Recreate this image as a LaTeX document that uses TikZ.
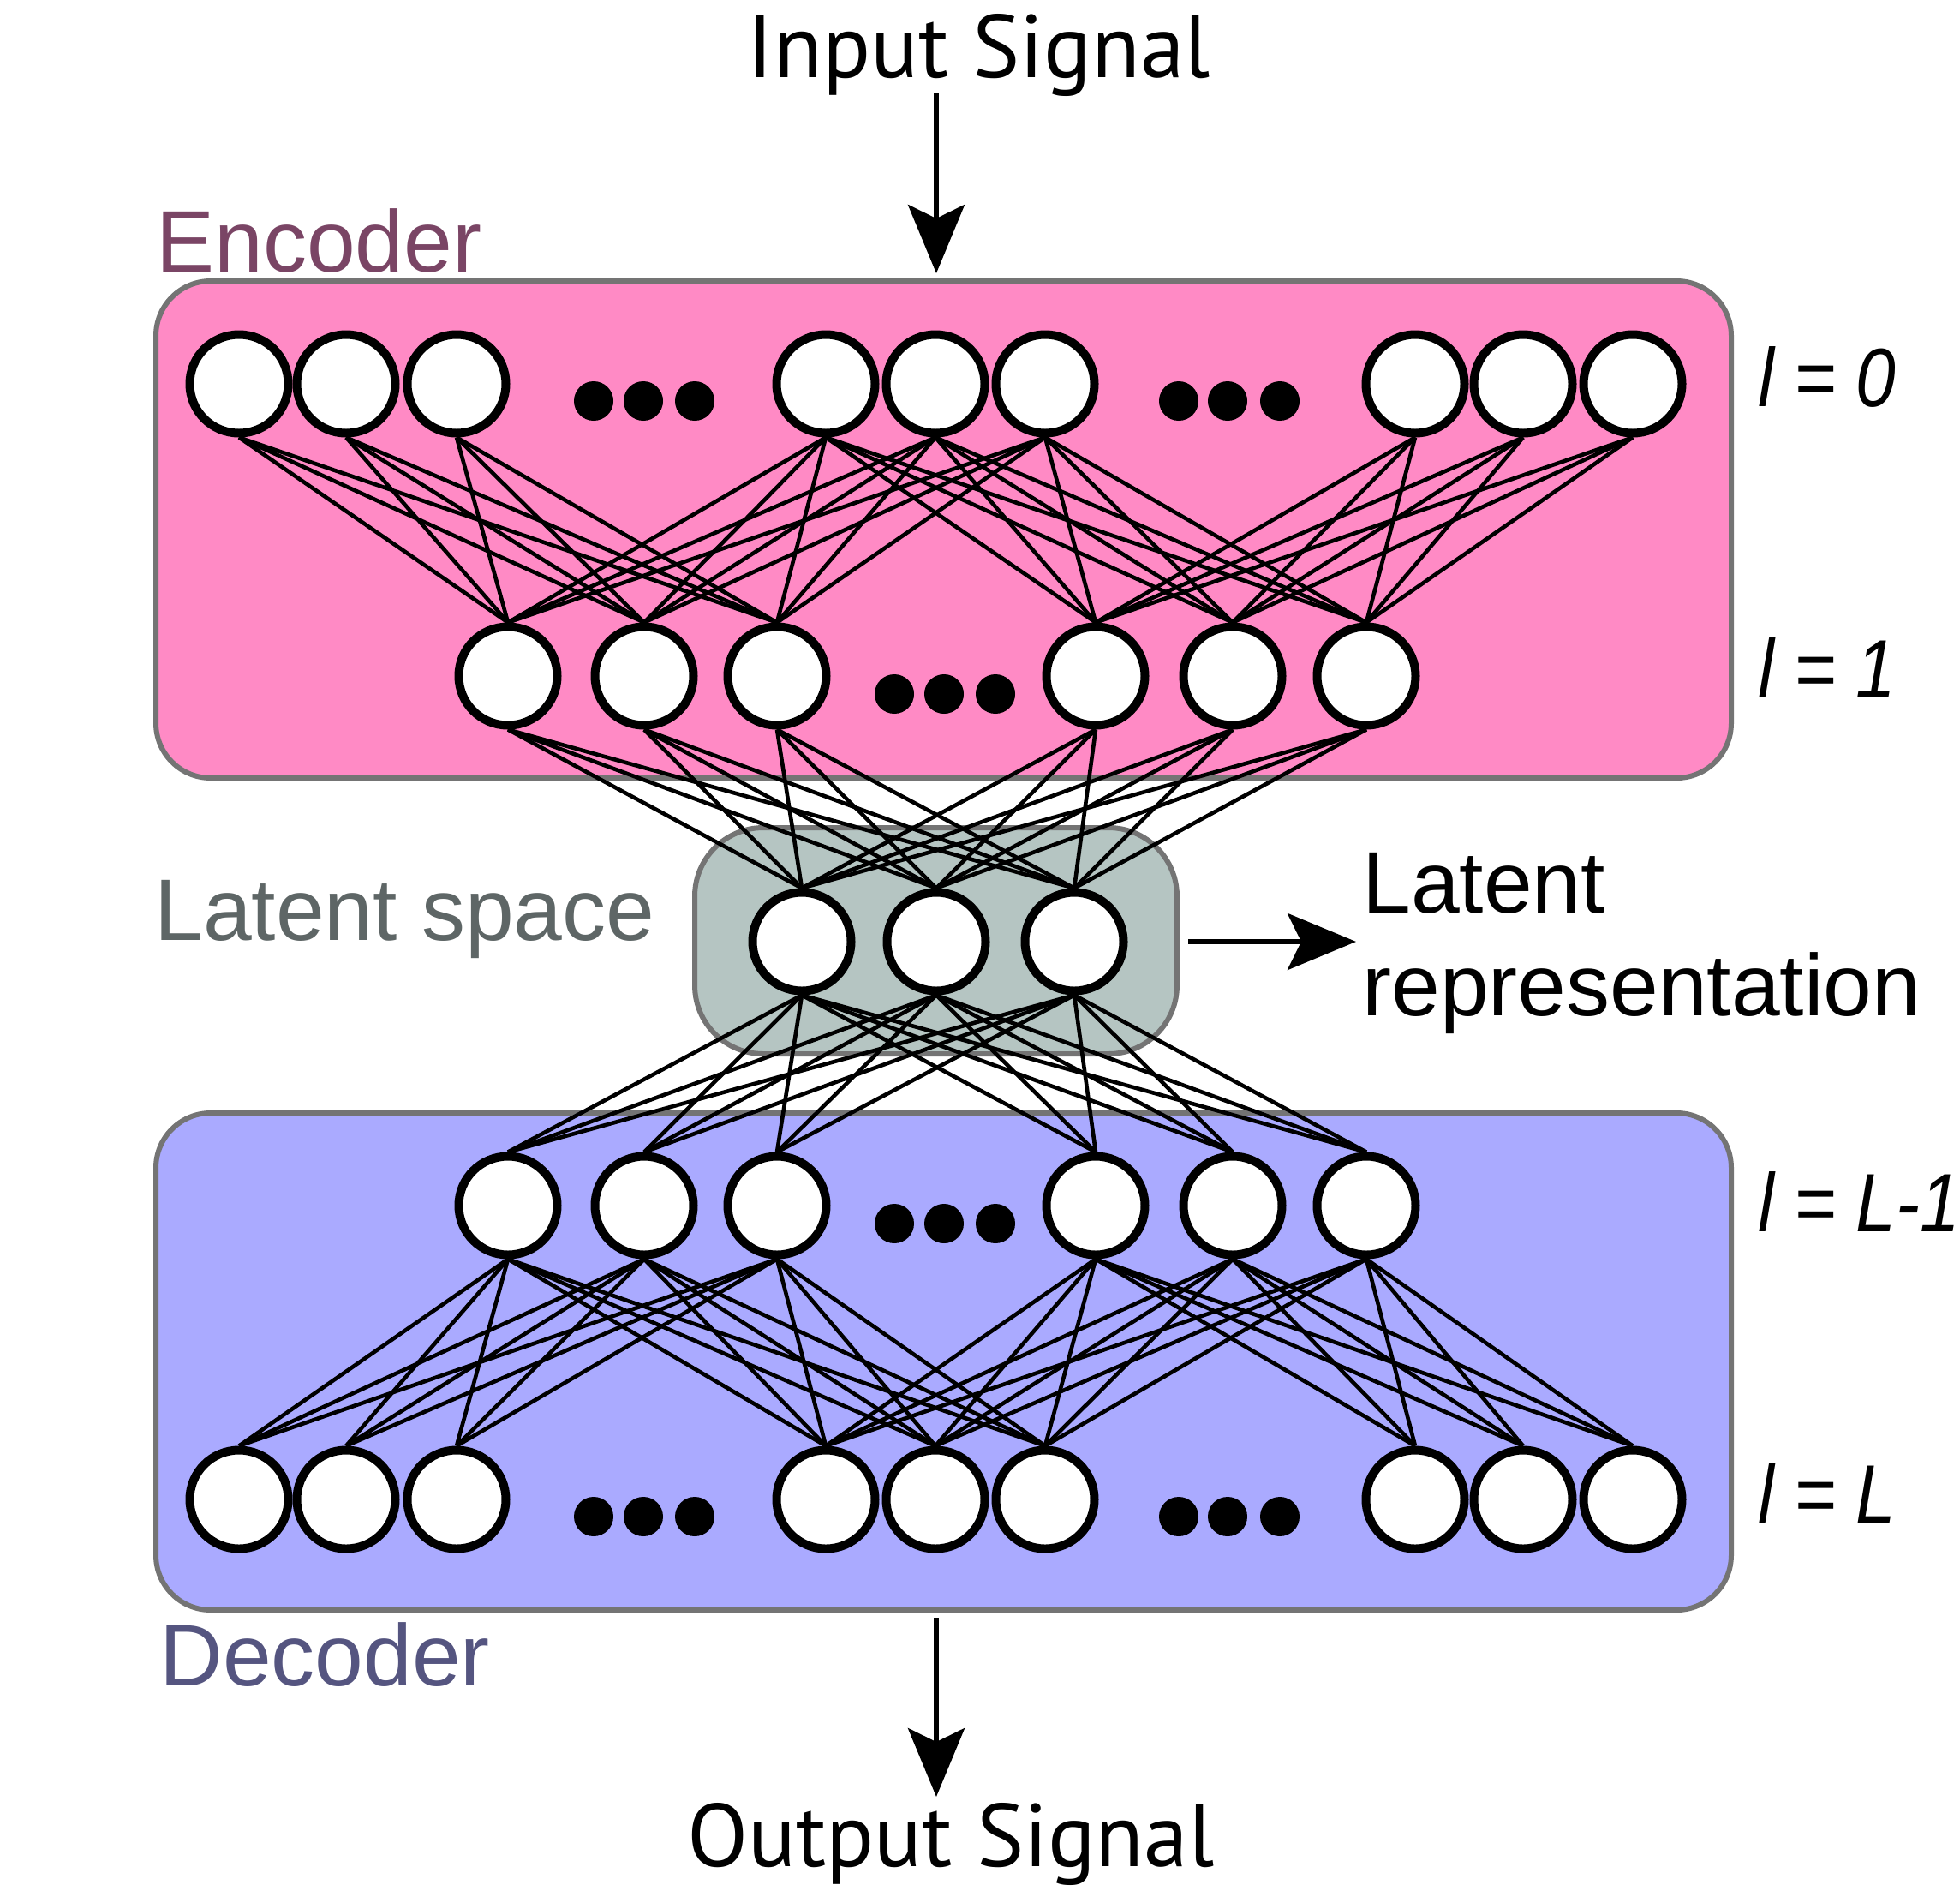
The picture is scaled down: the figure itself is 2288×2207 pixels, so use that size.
\documentclass[tikz,border=0pt]{standalone}
\usepackage{fontspec}
\setmainfont{Liberation Sans}
\newfontfamily\sigfont{PT Sans}
\usetikzlibrary{arrows.meta,calc}
\pgfdeclarelayer{boxes}
\pgfdeclarelayer{wires}
\pgfsetlayers{boxes,wires,main}
\definecolor{encfill}{HTML}{FF8AC5}
\definecolor{decfill}{HTML}{AAAAFF}
\definecolor{latfill}{HTML}{B5C5C2}
\definecolor{boxline}{HTML}{747474}
\definecolor{enctext}{HTML}{7A4565}
\definecolor{lattext}{HTML}{5E6666}
\definecolor{dectext}{HTML}{555580}
\tikzset{
  neuron/.style={circle,draw=black,line width=5pt,fill=white,minimum size=57.5pt,inner sep=0pt},
  bigdot/.style={circle,fill=black,minimum size=23pt,inner sep=0pt},
  wire/.style={line width=2.3pt,black},
  layerbox/.style={draw=boxline,line width=3pt,inner sep=0pt},
  sigarrow/.style={line width=2.8pt,-{Stealth[length=40pt,width=33pt,inset=8pt]}},
  lbl/.style={inner sep=0pt,anchor=base west,font=\fontsize{51pt}{60pt}\selectfont},
  siglbl/.style={inner sep=0pt,anchor=base,font=\sigfont\fontsize{52pt}{60pt}\selectfont},
  laylbl/.style={inner sep=0pt,anchor=base west,font=\itshape\fontsize{42pt}{50pt}\selectfont}
}
\begin{document}
\begin{tikzpicture}[x=0.5pt,y=-0.5pt]
\useasboundingbox (0,0) rectangle (2288,2207);

% layer boxes
\begin{pgfonlayer}{boxes}
\node[layerbox,fill=encfill,rounded corners=32pt,minimum width=919.5pt,minimum height=290pt] (enc) at (1101.5,618) {};
\node[layerbox,fill=decfill,rounded corners=32pt,minimum width=919.5pt,minimum height=290pt] (dec) at (1101.5,1589) {};
\node[layerbox,fill=latfill,rounded corners=40pt,minimum width=281.5pt,minimum height=132pt] (lat) at (1092.5,1098) {};
\end{pgfonlayer}

% neurons
\foreach \x [count=\i] in {279,404,533,964,1092,1220,1652,1778,1906}{
  \node[neuron] (a\i) at (\x,448) {};
  \node[neuron] (e\i) at (\x,1750) {};
}
\foreach \x [count=\i] in {593,752,907,1279,1439,1595}{
  \node[neuron] (b\i) at (\x,789) {};
  \node[neuron] (d\i) at (\x,1407) {};
}
\foreach \x [count=\i] in {936,1093,1254}{
  \node[neuron] (c\i) at (\x,1099) {};
}

% ellipsis dots
\foreach \x [count=\i] in {693,751,811,1376,1433,1494}{
  \node[bigdot] (pa\i) at (\x,468) {};
  \node[bigdot] (pe\i) at (\x,1770) {};
}
\foreach \x [count=\i] in {1044,1102,1162}{
  \node[bigdot] (pb\i) at (\x,810) {};
  \node[bigdot] (pd\i) at (\x,1428) {};
}

% connections
\begin{pgfonlayer}{wires}
\foreach \i in {1,2,3}{\foreach \j in {1,2,3}{\draw[wire] (a\i.south) -- (b\j.north);}}
\foreach \i in {4,5,6}{\foreach \j in {1,...,6}{\draw[wire] (a\i.south) -- (b\j.north);}}
\foreach \i in {7,8,9}{\foreach \j in {4,5,6}{\draw[wire] (a\i.south) -- (b\j.north);}}
\foreach \i in {1,...,6}{\foreach \j in {1,2,3}{\draw[wire] (b\i.south) -- (c\j.north);}}
\foreach \i in {1,2,3}{\foreach \j in {1,...,6}{\draw[wire] (c\i.south) -- (d\j.north);}}
\foreach \j in {1,2,3}{\foreach \i in {1,...,6}{\draw[wire] (d\j.south) -- (e\i.north);}}
\foreach \j in {4,5,6}{\foreach \i in {4,...,9}{\draw[wire] (d\j.south) -- (e\i.north);}}
\end{pgfonlayer}

% texts
\node[siglbl] (insig) at (1143,90) {Input Signal};
\node[siglbl] (outsig) at (1110,2178) {Output Signal};
\node[lbl,text=enctext] (enclbl) at (182,317) {Encoder};
\node[lbl,text=lattext] (latlbl) at (180,1097) {Latent space};
\node[lbl,text=dectext] (declbl) at (186,1967) {Decoder};
\node[lbl] (rep1) at (1590,1065) {Latent};
\node[lbl] (rep2) at (1590,1185) {representation};
\node[laylbl] (l0) at (2052,474) {\scalebox{1}[1.15]{l = 0}};
\node[laylbl] (l1) at (2052,814) {\scalebox{1}[1.15]{l = 1}};
\node[laylbl] (l2) at (2052,1437) {\scalebox{1}[1.15]{l = L-1}};
\node[laylbl] (l3) at (2052,1777) {\scalebox{1}[1.15]{l = L}};

% arrows
\coordinate (inTop) at (1093,109);
\coordinate (outTip) at (1093,2097);
\coordinate (repTip) at (1583,1099);
\draw[sigarrow,shorten >=3pt] (inTop) -- (inTop |- enc.north);
\draw[sigarrow,shorten <=3pt] (dec.south -| outTip) -- (outTip);
\draw[sigarrow,shorten <=5pt] (lat.east |- repTip) -- (repTip);
\end{tikzpicture}
\end{document}
